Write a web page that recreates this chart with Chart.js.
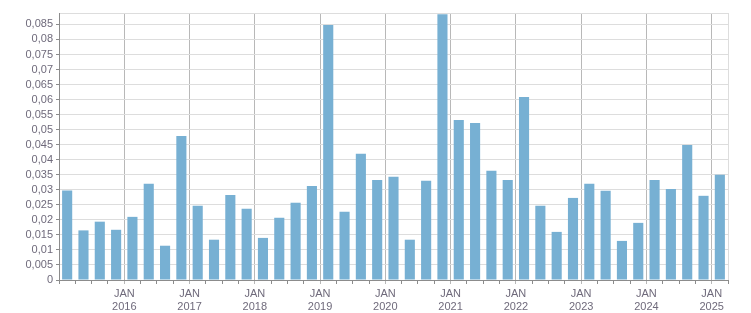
<!DOCTYPE html>
<html>
<head>
<meta charset="utf-8">
<script src="https://cdn.jsdelivr.net/npm/chart.js@4/dist/chart.umd.min.js"></script>
<style>
    body { margin: 0; background: #ffffff; }
    #wrap { width: 751px; height: 313px; }
</style>
</head>
<body>
<div id="wrap"><canvas id="quarter_Chart" width="751" height="313"></canvas></div>
<script>
// one bar per quarter, Q1 2015 .. Q1 2025
var quarters = ["2015 Q1", "2015 Q2", "2015 Q3", "2015 Q4",
    "2016 Q1", "2016 Q2", "2016 Q3", "2016 Q4",
    "2017 Q1", "2017 Q2", "2017 Q3", "2017 Q4",
    "2018 Q1", "2018 Q2", "2018 Q3", "2018 Q4",
    "2019 Q1", "2019 Q2", "2019 Q3", "2019 Q4",
    "2020 Q1", "2020 Q2", "2020 Q3", "2020 Q4",
    "2021 Q1", "2021 Q2", "2021 Q3", "2021 Q4",
    "2022 Q1", "2022 Q2", "2022 Q3", "2022 Q4",
    "2023 Q1", "2023 Q2", "2023 Q3", "2023 Q4",
    "2024 Q1", "2024 Q2", "2024 Q3", "2024 Q4",
    "2025 Q1"];

var values = [0.0298, 0.0165, 0.0194, 0.0167,
    0.0210, 0.0320, 0.0114, 0.0479,
    0.0247, 0.0134, 0.0283, 0.0237,
    0.0140, 0.0207, 0.0257, 0.0313,
    0.0848, 0.0227, 0.0420, 0.0333,
    0.0343, 0.0134, 0.0330, 0.0884,
    0.0532, 0.0522, 0.0363, 0.0333,
    0.0609, 0.0247, 0.0160, 0.0273,
    0.0320, 0.0297, 0.0130, 0.0190,
    0.0333, 0.0303, 0.0449, 0.0280,
    0.0350];

// labels under the year lines (start of each year)
var monthLabel = "JAN";
var yearLabels = ["2016", "2017", "2018", "2019", "2020", "2021", "2022", "2023", "2024", "2025"];

var yMax = 0.0888;
var yStep = 0.005;

var barColor = "#77b0d3";
var textColor = "#6f6a7b";
var axisColor = "#8c8c8c";
var yearLineColor = "#b8b8b8";
var gridColor = "#dddddd";

function formatComma(v) {
    // decimal comma, 3 decimals max
    var s = parseFloat(v.toFixed(3)).toString();
    return s.replace(".", ",");
}

// quarter boundary k (0 = start of first quarter) -> year label
function boundaryLabel(k) {
    if (k > 0 && k % 4 === 0 && k / 4 <= yearLabels.length) {
        return [monthLabel, yearLabels[k / 4 - 1]];
    }
    return "";
}

Chart.defaults.font.family = "'Liberation Sans', Arial, sans-serif";
Chart.defaults.font.size = 11;
Chart.defaults.color = textColor;

var ctxP = document.getElementById("quarter_Chart").getContext("2d");

var quarter_Chart = new Chart(ctxP, {
    type: "bar",
    data: {
        labels: quarters,
        datasets: [{
            data: values,
            backgroundColor: barColor,
            borderWidth: 0,
            barPercentage: 0.62,
            categoryPercentage: 1.0,
            xAxisID: "x",
            yAxisID: "y"
        }]
    },
    options: {
        responsive: false,
        animation: false,
        layout: {
            padding: { top: 13, right: 23, left: 0, bottom: 0 }
        },
        plugins: {
            legend: { display: false },
            tooltip: { enabled: false }
        },
        scales: {
            x: {
                type: "category",
                display: false,
                offset: true
            },
            // boundary axis: one step per quarter, gridlines only at year starts
            x2: {
                type: "linear",
                position: "bottom",
                min: 0,
                max: quarters.length,
                offset: false,
                afterFit: function (scale) { scale.height = 33; },
                ticks: {
                    stepSize: 1,
                    autoSkip: false,
                    maxTicksLimit: 100,
                    maxRotation: 0,
                    padding: 4,
                    font: { lineHeight: 1.15 },
                    callback: function (value) { return boundaryLabel(value); }
                },
                grid: {
                    offset: false,
                    drawOnChartArea: true,
                    tickLength: 4,
                    color: function (c) {
                        var v = c.tick ? c.tick.value : 0;
                        if (v === quarters.length) return gridColor;
                        if (v > 0 && v % 4 === 0) return yearLineColor;
                        return "rgba(0,0,0,0)";
                    },
                    tickColor: function (c) {
                        var v = c.tick ? c.tick.value : 0;
                        if (v > 0 && v % 4 === 0) return yearLineColor;
                        return axisColor;
                    }
                },
                border: { color: axisColor }
            },
            // only used for the light top frame line
            xTop: {
                type: "linear",
                position: "top",
                min: 0,
                max: quarters.length,
                offset: false,
                afterFit: function (scale) { scale.height = 0; },
                ticks: { display: false },
                grid: { display: false },
                border: { color: gridColor }
            },
            y: {
                min: 0,
                max: yMax,
                afterFit: function (scale) { scale.width = 59; },
                ticks: {
                    stepSize: yStep,
                    maxTicksLimit: 40,
                    autoSkip: false,
                    includeBounds: false,
                    padding: 3,
                    callback: function (value) { return formatComma(value); }
                },
                grid: {
                    color: gridColor,
                    tickLength: 3,
                    tickColor: axisColor
                },
                border: { color: axisColor }
            }
        }
    }
});
</script>
</body>
</html>
